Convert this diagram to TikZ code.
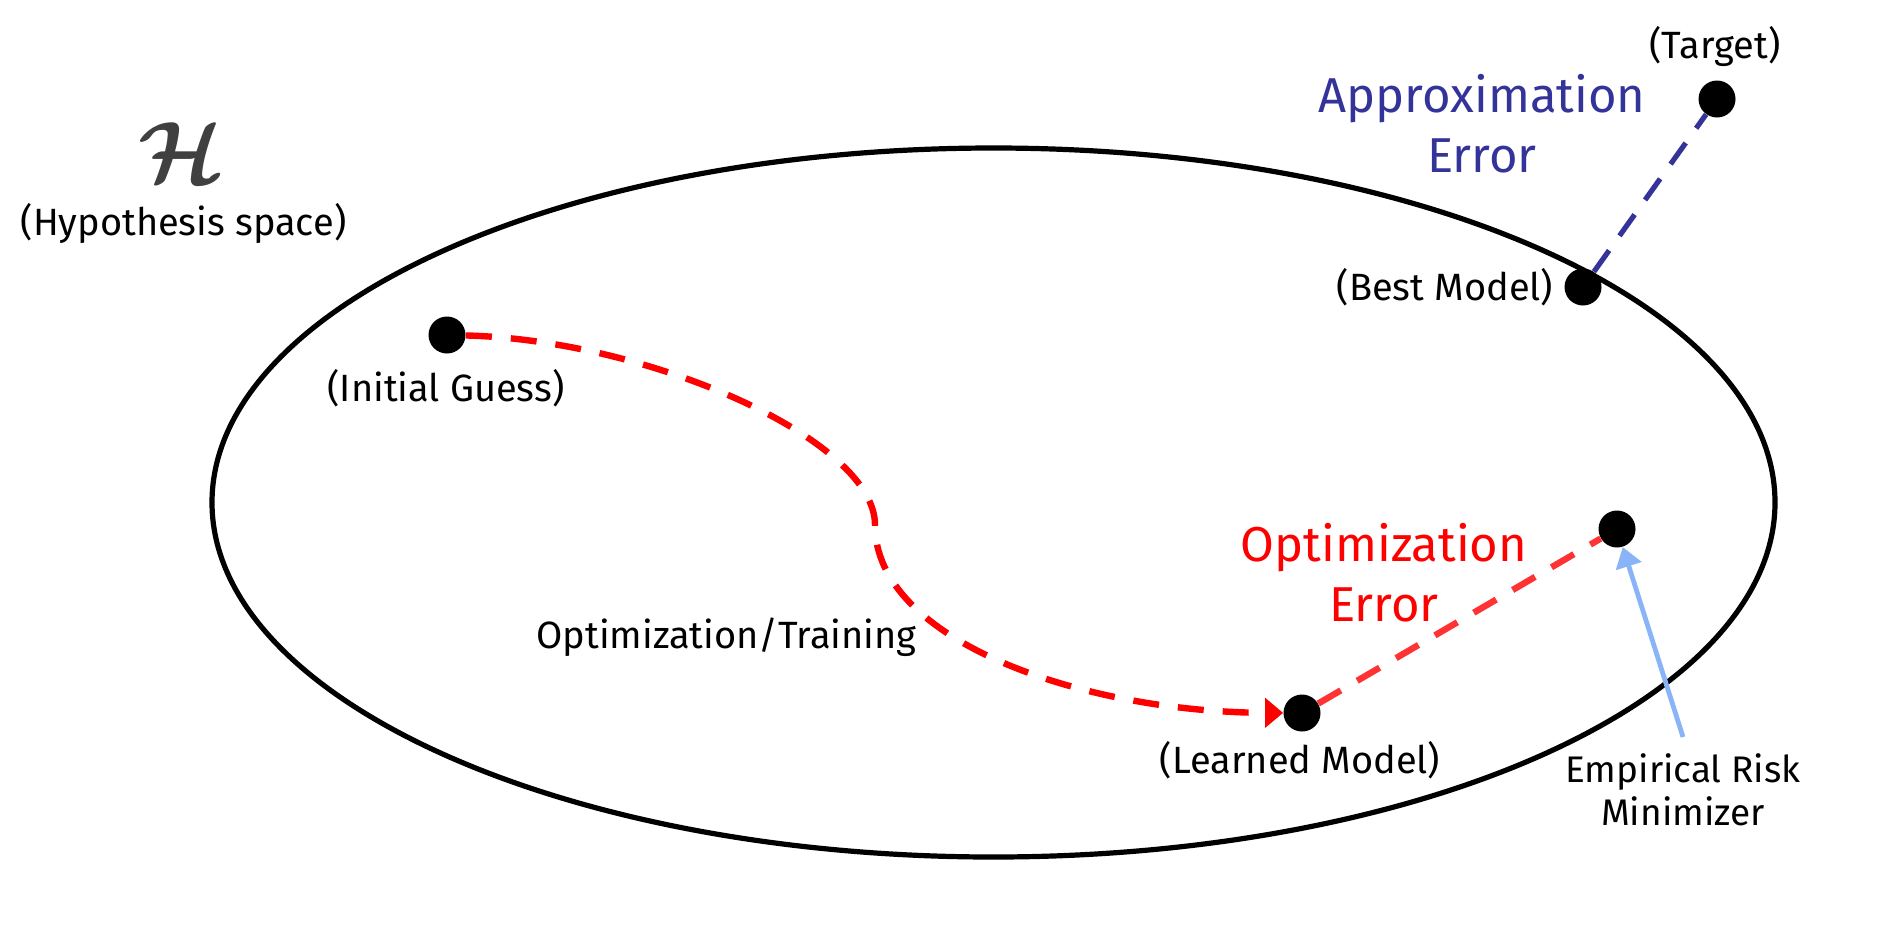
\documentclass[tikz,border=0pt]{standalone}
\usepackage{amsmath}
\usepackage{fontspec}
\setmainfont{Fira Sans}
\usetikzlibrary{arrows.meta}
\definecolor{apxblue}{HTML}{333399}
\definecolor{ermblue}{HTML}{8AB4F8}
\definecolor{optred}{HTML}{FF0000}
\definecolor{lightred}{HTML}{FF3333}
\definecolor{hgray}{HTML}{404040}
\begin{document}
\begin{tikzpicture}[x=0.5pt,y=-0.5pt,
  dot/.style={circle,fill=black,inner sep=0pt,minimum size=18.5pt},
  lbl/.style={font=\fontsize{19}{22}\selectfont,inner sep=0pt},
  errlbl/.style={font=\fontsize{24.5}{30}\selectfont,align=center,inner sep=0pt},
  space/.style={line width=2.6pt},
  optpath/.style={optred,line width=3.2pt,dash pattern=on 13pt off 9.5pt},
  opterr/.style={lightred,line width=3.2pt,dash pattern=on 13pt off 9.5pt},
  apxerr/.style={apxblue,line width=2.6pt,dash pattern=on 13pt off 9pt},
  ermarrow/.style={ermblue,line width=2.4pt,-{Triangle[length=10pt,width=13pt]}}
]
\useasboundingbox (0,0) rectangle (1899,927);
% hypothesis space
\draw[space] (993.5,502.5) ellipse [x radius=781.5, y radius=354.5];
\node[inner sep=0pt,text=hgray,font=\fontsize{24.88}{30}\selectfont,scale=1.75] (hsym) at (181,153) {$\boldsymbol{\mathcal{H}}$};
\node[lbl,anchor=base] (hlbl) at (183.5,235) {(Hypothesis space)};
% points
\node[dot] (init) at (447,335) {};
\node[dot] (learned) at (1302,713) {};
\node[dot] (erm) at (1617,529) {};
\node[dot] (best) at (1583,287) {};
\node[dot] (target) at (1717,99) {};
\coordinate (bend) at (875,525);
\coordinate (ermfoot) at (1683,737);
% labels
\node[lbl] (initlbl) at (446,388) {(Initial Guess)};
\node[lbl] (learnedlbl) at (1300,760) {(Learned Model)};
\node[lbl] (bestlbl) at (1445,287) {(Best Model)};
\node[lbl] (targetlbl) at (1715,46) {(Target)};
\node[lbl,anchor=base east] (trainlbl) at (917,648) {Optimization/Training};
\node[lbl,align=center,font=\fontsize{18.5}{21.5}\selectfont] (ermlbl) at (1683,790) {Empirical Risk\\Minimizer};
\node[errlbl,text=apxblue] (apxlbl) at (1482,124) {Approximation\\Error};
\node[errlbl,text=optred] (optlbl) at (1384,573) {Optimization\\Error};
% connectors
\draw[optpath,-{Triangle[length=9pt,width=14.5pt]}] (init) .. controls (650,340) and (875,440) .. (bend) .. controls (875,640) and (1080,712) .. (learned);
\draw[opterr] (learned) -- (erm);
\draw[apxerr] (best) -- (target);
\draw[ermarrow] (ermfoot) -- (erm);
\end{tikzpicture}
\end{document}
